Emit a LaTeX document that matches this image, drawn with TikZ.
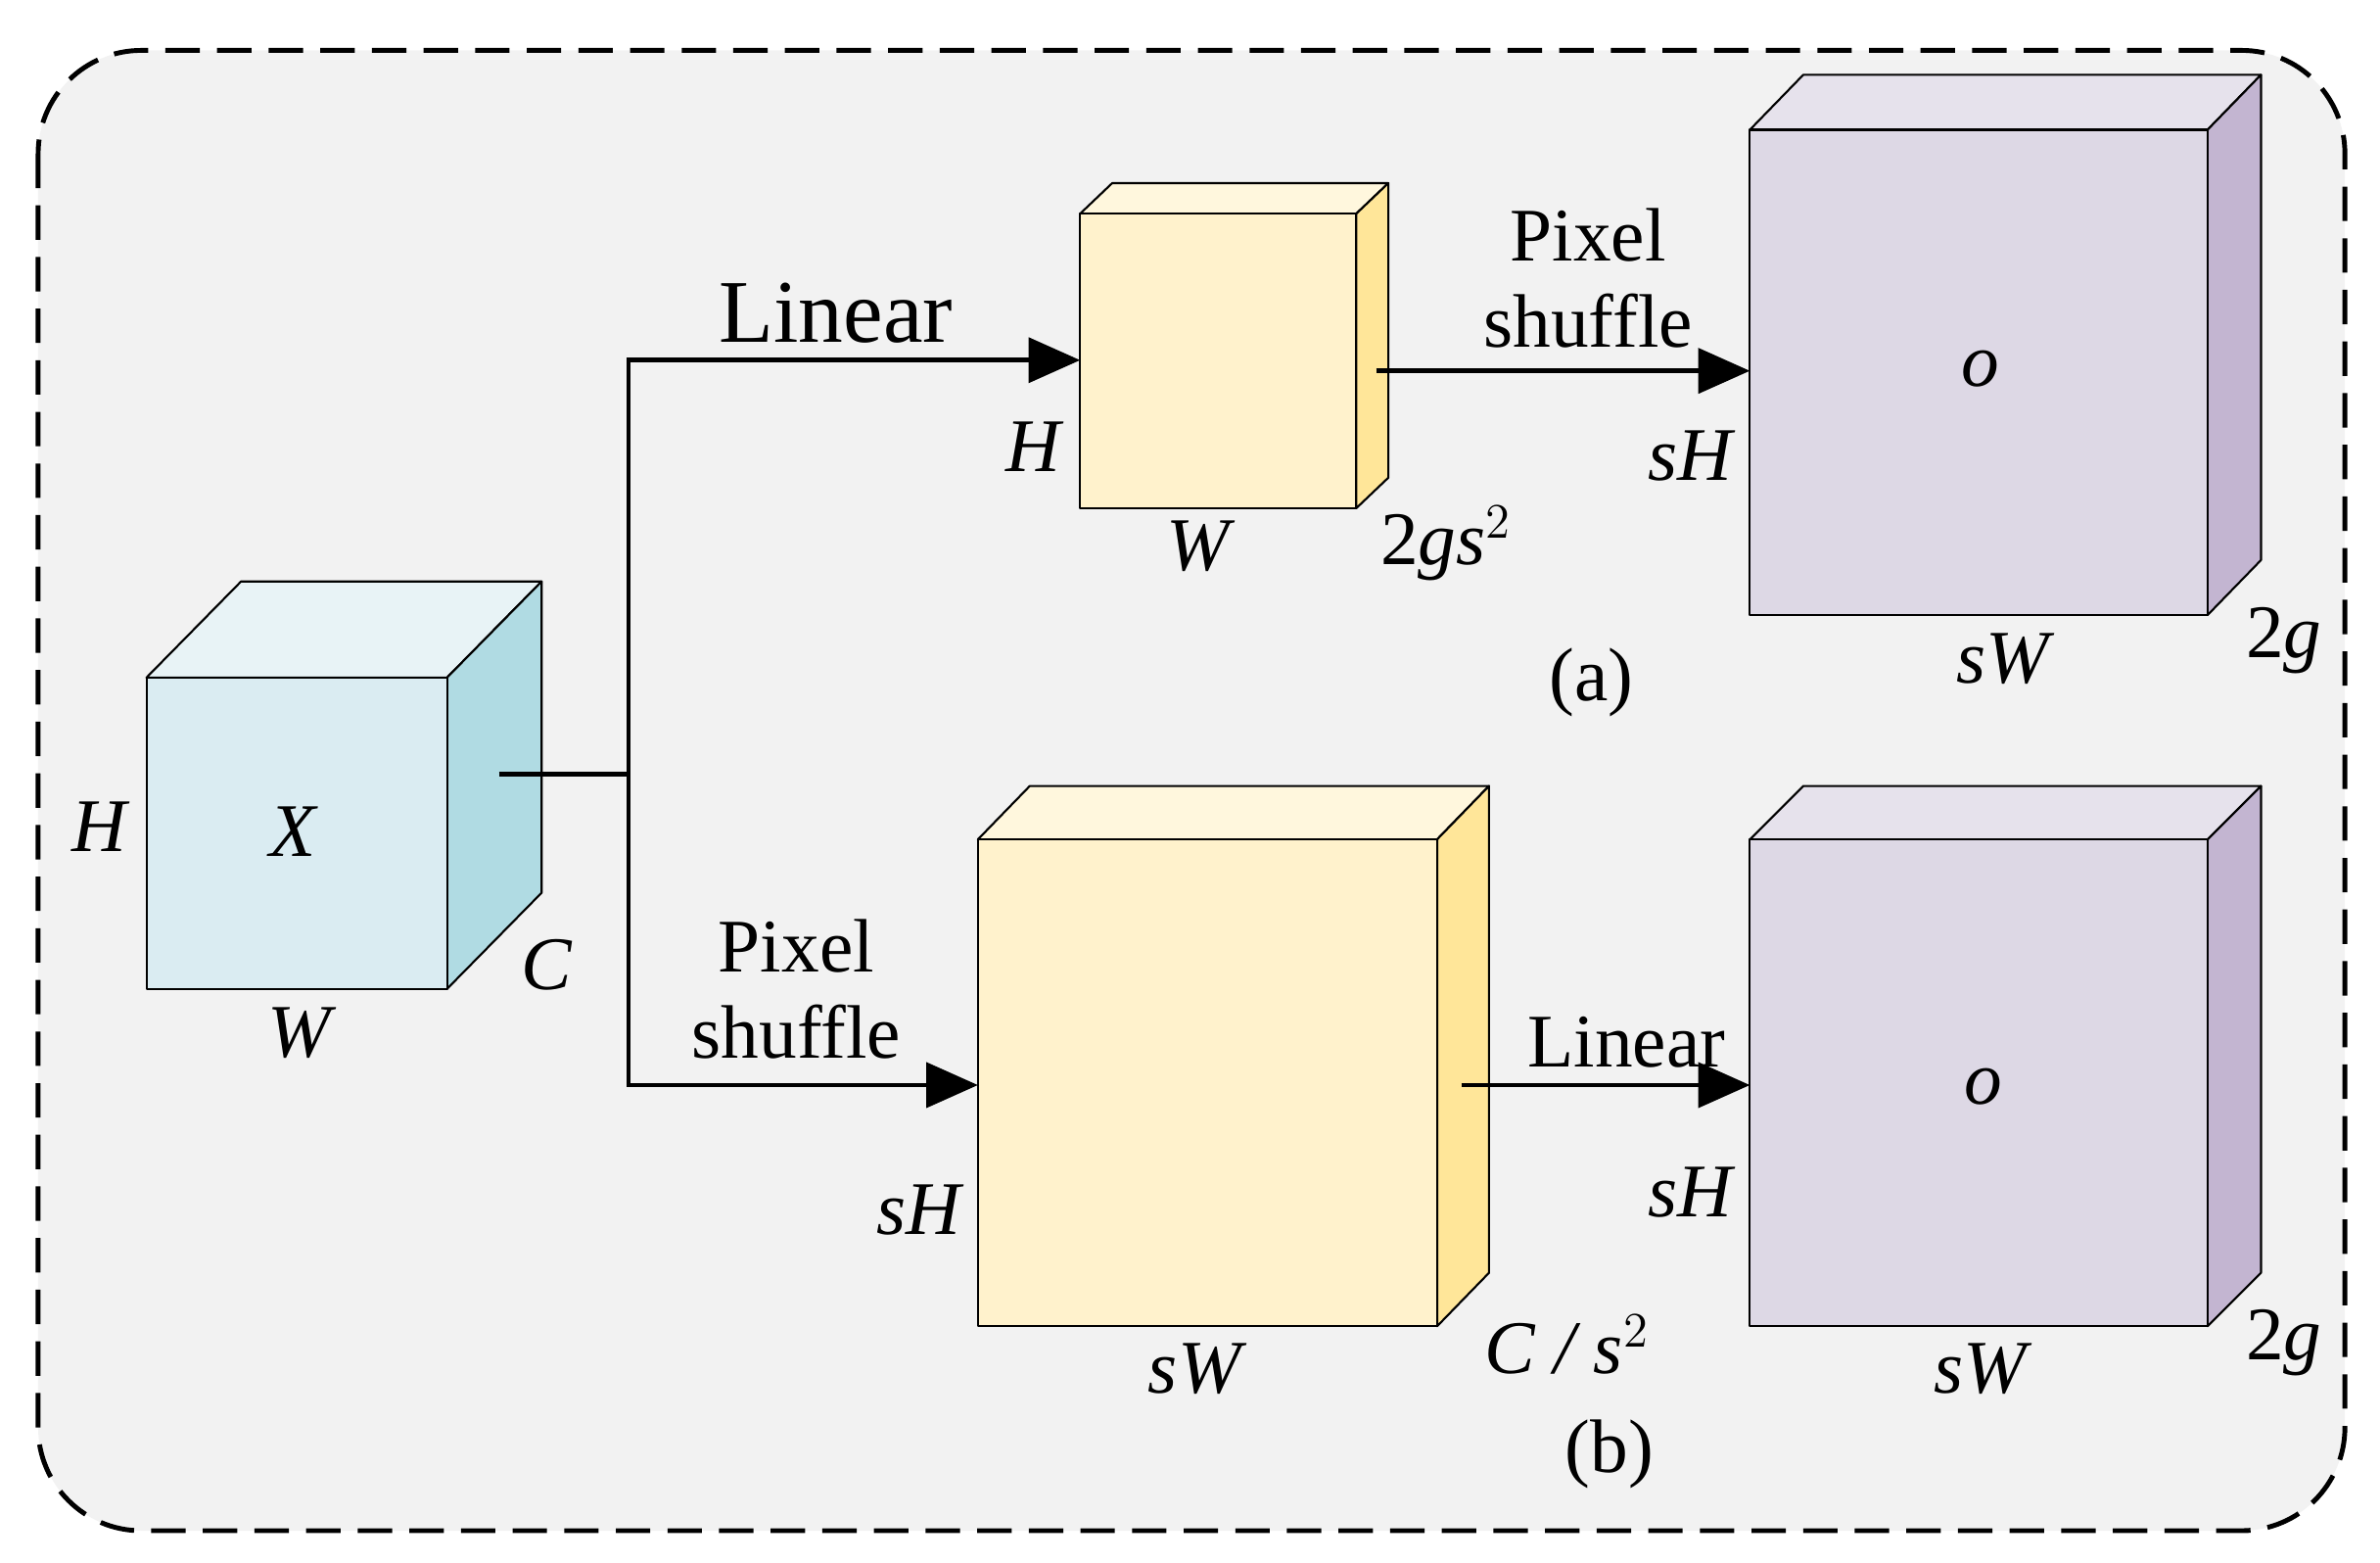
\documentclass[tikz,border=0pt]{standalone}
\usepackage{fontspec}
\setmainfont{Liberation Serif}
\usetikzlibrary{arrows.meta}
\begin{document}
\begin{tikzpicture}[x=0.1558mm,y=-0.1558mm,
  lab/.style={font=\fontsize{22}{24}\selectfont\itshape},
  txt/.style={font=\fontsize{22}{25}\selectfont,align=center},
  arr/.style={line width=1.4pt,-{Triangle[length=15pt,width=13pt]}},
  ln/.style={line width=1.4pt},
  face/.style={draw=black,line width=0.6pt,line join=round}]
\useasboundingbox (0,0) rectangle (1560,1024);
\definecolor{bg}{HTML}{F2F2F2}
\definecolor{bf}{HTML}{DAECF2}\definecolor{bt}{HTML}{E8F3F6}\definecolor{bs}{HTML}{B0DBE3}
\definecolor{yf}{HTML}{FFF2CC}\definecolor{yt}{HTML}{FFF7DD}\definecolor{ys}{HTML}{FFE699}
\definecolor{pf}{HTML}{DDD8E5}\definecolor{pt}{HTML}{E6E2EC}\definecolor{ps}{HTML}{C3B5D1}
\draw[fill=bg,dashed,line width=1.4pt,dash pattern=on 10pt off 5pt,rounded corners=30] (25,33) rectangle (1537,1003);
% cube macro
\newcommand{\mycube}[9]{% x1,y1,x2,y2,dx,dy,front,top,side
  \fill[#8,face] (#1,#2) -- ++(#5,-#6) -- ++(#3-#1,0) -- (#3,#2) -- cycle;
  \fill[#9,face] (#3,#2) -- ++(#5,-#6) -- ++(0,#4-#2) -- (#3,#4) -- cycle;
  \fill[#7,face] (#1,#2) rectangle (#3,#4);}
\mycube{96}{444}{293}{648}{62}{63}{bf}{bt}{bs}
\mycube{708}{140}{889}{333}{21}{20}{yf}{yt}{ys}
\mycube{1147}{85}{1447}{403}{35}{36}{pf}{pt}{ps}
\mycube{641}{550}{942}{869}{34}{35}{yf}{yt}{ys}
\mycube{1147}{550}{1447}{869}{35}{35}{pf}{pt}{ps}
% labels
\node[lab] (h0) at (65,542) {H};
\node[lab] (x0) at (192,545) {X};
\node[lab] (w0) at (196,677) {W};
\node[lab] (c0) at (358,632) {C};
\node[lab] (h1) at (677,293) {H};
\node[lab] (w1) at (785,358) {W};
\node[lab] (g1) at (948,356) {\upshape 2\itshape gs$^{\scriptstyle 2}$};
\node[lab] (o1) at (1298,242) {o};
\node[lab] (sh1) at (1108,299) {sH};
\node[lab] (sw1) at (1313,432) {sW};
\node[lab] (g2) at (1497,420) {\upshape 2\itshape g};
\node[txt] (a) at (1043,447) {(a)};
\node[lab] (sh2) at (602,793) {sH};
\node[lab] (sw2) at (783,897) {sW};
\node[lab] (cs) at (1027,881) {C / s$^{\scriptstyle 2}$};
\node[lab] (o2) at (1300,712) {o};
\node[lab] (sh3) at (1108,781) {sH};
\node[lab] (sw3) at (1298,897) {sW};
\node[lab] (g3) at (1497,880) {\upshape 2\itshape g};
\node[txt] (b) at (1055,953) {(b)};
\node[font=\fontsize{26}{28}\selectfont] (lin1) at (548,205) {Linear};
\node[txt] (ps1) at (522,648) {Pixel\\shuffle};
\node[txt] (ps2) at (1041,182) {Pixel\\shuffle};
\node[txt] (lin2) at (1066,683) {Linear};
% connectors
\coordinate (s0) at (327,507); \coordinate (j) at (412,507);
\coordinate (jt) at (412,236); \coordinate (jb) at (412,711);
\coordinate (e1) at (708,236); \coordinate (e2) at (641,711);
\coordinate (s1) at (902,243); \coordinate (e3) at (1147,243);
\coordinate (s2) at (958,711); \coordinate (e4) at (1147,711);
\draw[ln] (s0) -- (j);
\draw[arr,line join=miter] (j) -- (jt) -- (e1);
\draw[arr,line join=miter] (j) -- (jb) -- (e2);
\draw[arr] (s1) -- (e3);
\draw[arr] (s2) -- (e4);
\end{tikzpicture}
\end{document}
